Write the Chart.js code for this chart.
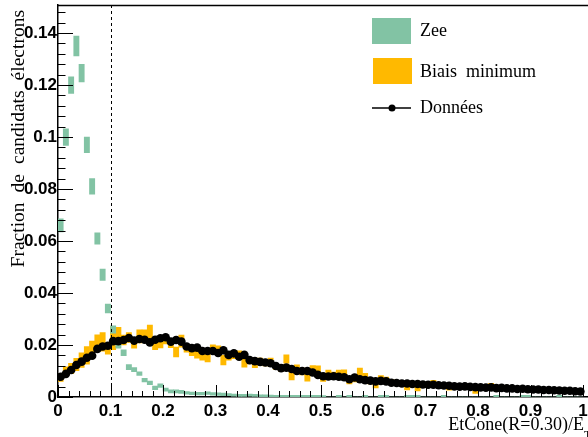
<!DOCTYPE html>
<html>
<head>
<meta charset="utf-8">
<script src="https://cdn.jsdelivr.net/npm/chart.js@4.4.1/dist/chart.umd.min.js"></script>
<style>
html, body { margin: 0; padding: 0; overflow: hidden; background: #fff; }
canvas { display: block; }
</style>
</head>
<body>
<canvas id="myChart" width="640" height="437"></canvas>
<script>
// bins of 0.01 from 0 to 1
const binCenters = Array.from({length: 100}, (_, i) => +(0.005 + 0.01 * i).toFixed(3));

const zee = [
  0.066, 0.100, 0.120, 0.135, 0.1246, 0.097, 0.081, 0.061, 0.047, 0.034,
  0.026, 0.020, 0.017, 0.0115, 0.0105, 0.009, 0.0065, 0.0054, 0.0035, 0.0044,
  0.0028, 0.0022, 0.0022, 0.0020, 0.0016, 0.0014, 0.0013, 0.0013, 0.0015, 0.0012,
  0.0011, 0.0010, 0.0009, 0.0007, 0.0006, 0.0006, 0.0007, 0.0006, 0.0004, 0.0004,
  0.0004, 0.0003, 0.0003, 0.0003, 0.0003, 0.0003, 0.0003, 0.0003, 0.0003, 0.0003,
  0.0002, 0, 0, 0.0003, 0, 0.0003, 0, 0, 0.0003, 0,
  0, 0.0003, 0.0003, 0, 0, 0, 0.0003, 0.0003, 0.0003, 0,
  0, 0, 0, 0.0003, 0, 0, 0, 0, 0, 0,
  0, 0, 0, 0.0003, 0, 0, 0, 0, 0.0003, 0.0003,
  0, 0, 0, 0, 0, 0.0003, 0, 0, 0, 0
];
const zeeErr = [
  0.0025, 0.0032, 0.0032, 0.0038, 0.0034, 0.0030, 0.0030, 0.0022, 0.0022, 0.0017,
  0.0014, 0.0012, 0.0011, 0.0010, 0.0008, 0.0007, 0.0007, 0.0007, 0.0007, 0.0007,
  0.0006, 0.0006, 0.0006, 0.0006, 0.0005, 0.0005, 0.0005, 0.0005, 0.0005, 0.0005,
  0.0005, 0.0005, 0.0004, 0.0004, 0.0004, 0.0004, 0.0004, 0.0004, 0.0004, 0.0004,
  0.0003, 0.0003, 0.0003, 0.0003, 0.0003, 0.0003, 0.0003, 0.0003, 0.0003, 0.0003,
  0.0003, 0, 0, 0.0003, 0, 0.0003, 0, 0, 0.0003, 0,
  0, 0.0003, 0.0003, 0, 0, 0, 0.0003, 0.0003, 0.0003, 0,
  0, 0, 0, 0.0003, 0, 0, 0, 0, 0, 0,
  0, 0, 0, 0.0003, 0, 0, 0, 0, 0.0003, 0.0003,
  0, 0, 0, 0, 0, 0.0003, 0, 0, 0, 0
];

const biais = [
  0.0075, 0.0098, 0.0110, 0.0125, 0.0142, 0.0160, 0.0185, 0.0207, 0.0212, 0.0183,
  0.0226, 0.0239, 0.0219, 0.0229, 0.0204, 0.0233, 0.0235, 0.0244, 0.0201, 0.0205,
  0.0220, 0.0206, 0.0173, 0.0215, 0.0185, 0.0172, 0.0165, 0.0158, 0.0152, 0.0185,
  0.0178, 0.0142, 0.0158, 0.0160, 0.0162, 0.0131, 0.0140, 0.0125, 0.0140, 0.0130,
  0.0140, 0.0118, 0.0112, 0.0146, 0.0085, 0.0108, 0.0098, 0.0077, 0.0108, 0.0104,
  0.0070, 0.0090, 0.0083, 0.0090, 0.0088, 0.0060, 0.0068, 0.0097, 0.0080, 0.0060,
  0.0045, 0.0072, 0.0068, 0.0058, 0.0055, 0.0050, 0.0036, 0.0048, 0.0032, 0.0045,
  0.0046, 0.0055, 0.0044, 0.0040, 0.0034, 0.0042, 0.0038, 0.0036, 0.0040, 0.0022,
  0.0035, 0.0036, 0.0045, 0.0032, 0.0033, 0.0030, 0.0034, 0.0029, 0.0030, 0.0028,
  0.0030, 0.0026, 0.0028, 0.0025, 0.0026, 0.0024, 0.0023, 0.0025, 0.0021, 0.0020
];
const biaisErr = [
  0.0015, 0.0018, 0.0020, 0.0024, 0.0028, 0.0034, 0.0030, 0.0032, 0.0036, 0.0018,
  0.0044, 0.0029, 0.0019, 0.0019, 0.0016, 0.0025, 0.0023, 0.0033, 0.0019, 0.0016,
  0.0016, 0.0016, 0.0019, 0.0023, 0.0013, 0.0013, 0.0016, 0.0016, 0.0017, 0.0016,
  0.0019, 0.0019, 0.0016, 0.0013, 0.0016, 0.0016, 0.0013, 0.0012, 0.0010, 0.0010,
  0.0010, 0.0012, 0.0013, 0.0016, 0.0019, 0.0016, 0.0013, 0.0016, 0.0013, 0.0016,
  0.0010, 0.0014, 0.0013, 0.0014, 0.0017, 0.0010, 0.0010, 0.0014, 0.0011, 0.0010,
  0.0010, 0.0010, 0.0009, 0.0009, 0.0009, 0.0009, 0.0009, 0.0009, 0.0009, 0.0009,
  0.0009, 0.0009, 0.0008, 0.0008, 0.0008, 0.0008, 0.0008, 0.0008, 0.0008, 0.0008,
  0.0008, 0.0008, 0.0008, 0.0008, 0.0008, 0.0008, 0.0008, 0.0008, 0.0008, 0.0008,
  0.0008, 0.0008, 0.0008, 0.0008, 0.0008, 0.0008, 0.0008, 0.0008, 0.0008, 0.0008
];

const donnees = [
  0.0078, 0.0089, 0.0104, 0.0123, 0.0136, 0.0151, 0.0159, 0.0185, 0.0194, 0.0197,
  0.0215, 0.0215, 0.0219, 0.0227, 0.0217, 0.0223, 0.0220, 0.0210, 0.0220, 0.0226,
  0.0230, 0.0213, 0.0219, 0.0213, 0.0194, 0.0188, 0.0190, 0.0177, 0.0177, 0.0177,
  0.0169, 0.0180, 0.0162, 0.0168, 0.0155, 0.0162, 0.0142, 0.0138, 0.0135, 0.0133,
  0.0130, 0.0119, 0.0111, 0.0113, 0.0108, 0.0100, 0.0100, 0.0100, 0.0094, 0.0085,
  0.0080, 0.0079, 0.0080, 0.0078, 0.0076, 0.0068, 0.0075, 0.0068, 0.0065, 0.0063,
  0.0060, 0.0062, 0.0060, 0.0055, 0.0054, 0.0052, 0.0052, 0.0050, 0.0050, 0.0048,
  0.0047, 0.0047, 0.0045, 0.0044, 0.0043, 0.0041, 0.0040, 0.0041, 0.0039, 0.0038,
  0.0037, 0.0036, 0.0037, 0.0034, 0.0035, 0.0033, 0.0033, 0.0031, 0.0032, 0.0030,
  0.0029, 0.0029, 0.0027, 0.0027, 0.0026, 0.0025, 0.0024, 0.0024, 0.0022, 0.0021
];

const xTicks = [0, 0.1, 0.2, 0.3, 0.4, 0.5, 0.6, 0.7, 0.8, 0.9, 1];
const xTickLabels = ['0', '0.1', '0.2', '0.3', '0.4', '0.5', '0.6', '0.7', '0.8', '0.9', '1'];
const yTicks = [0, 0.02, 0.04, 0.06, 0.08, 0.1, 0.12, 0.14];
const yTickLabels = ['0', '0.02', '0.04', '0.06', '0.08', '0.1', '0.12', '0.14'];

const xTitle = 'EtCone(R=0.30)/E';
const xTitleSub = 'T';
const yTitle = 'Fraction de candidats électrons';
const cutValue = 0.1;

const GREEN = '#82c3a4';
const ORANGE = '#ffb900';
const SERIF = '"Liberation Serif", "DejaVu Serif", serif';

// ROOT-like frame: inner ticks, top line, dashed cut, legend and titles
const rootStyle = {
  id: 'rootStyle',
  afterDraw(chart) {
    const { ctx, chartArea: a, scales: { x, y } } = chart;
    ctx.save();
    ctx.strokeStyle = '#000';
    ctx.lineWidth = 1.5;
    ctx.beginPath();
    ctx.moveTo(a.left, a.top + 0.5);
    ctx.lineTo(a.right, a.top + 0.5);
    ctx.stroke();

    ctx.lineWidth = 1;
    ctx.beginPath();
    for (let k = 0; k * 0.004 <= y.max + 1e-9; k++) {
      const py = Math.round(y.getPixelForValue(k * 0.004)) + 0.5;
      const len = k % 5 === 0 ? 15 : 7.5;
      ctx.moveTo(a.left, py);
      ctx.lineTo(a.left + len, py);
    }
    for (let k = 0; k * 0.02 <= x.max + 1e-9; k++) {
      const px = Math.round(x.getPixelForValue(k * 0.02)) + 0.5;
      const len = k % 5 === 0 ? 12 : 6;
      ctx.moveTo(px, a.bottom);
      ctx.lineTo(px, a.bottom - len);
    }
    ctx.stroke();

    // dashed cut line
    const cx = Math.round(x.getPixelForValue(cutValue)) + 0.5;
    ctx.setLineDash([3, 3]);
    ctx.beginPath();
    ctx.moveTo(cx, a.top);
    ctx.lineTo(cx, a.bottom);
    ctx.stroke();
    ctx.setLineDash([]);

    // legend
    const ds = chart.data.datasets;
    const zeeDs = ds.find(d => d.label === 'Zee');
    const biaisDs = ds.find(d => d.label === 'Biais minimum');
    const dataDs = ds.find(d => d.label === 'Données');
    ctx.font = '18px ' + SERIF;
    ctx.fillStyle = '#000';
    ctx.textBaseline = 'alphabetic';
    ctx.textAlign = 'left';

    ctx.fillStyle = zeeDs.backgroundColor;
    ctx.fillRect(372, 18, 39, 26);
    ctx.fillStyle = '#000';
    ctx.fillText(zeeDs.label, 420, 36);

    ctx.fillStyle = biaisDs.backgroundColor;
    ctx.fillRect(373, 58, 39, 26);
    ctx.fillStyle = '#000';
    ctx.fillText('Biais  minimum', 420, 77);

    ctx.lineWidth = 1.5;
    ctx.beginPath();
    ctx.moveTo(372, 108);
    ctx.lineTo(411, 108);
    ctx.stroke();
    ctx.beginPath();
    ctx.arc(392, 108, 3.5, 0, Math.PI * 2);
    ctx.fill();
    ctx.fillText(dataDs.label, 420, 113);

    // axis titles
    ctx.textAlign = 'right';
    ctx.fillText(xTitle, 584, 430);
    ctx.font = '12px ' + SERIF;
    ctx.textAlign = 'left';
    ctx.fillText(xTitleSub, 584, 439);

    // y title, words spread like the ROOT latex rendering
    ctx.font = '19.5px ' + SERIF;
    ctx.translate(24, 10);
    ctx.rotate(-Math.PI / 2);
    ctx.textAlign = 'left';
    const words = yTitle.split(' ');
    const gap = 10;
    const total = words.reduce((s, w) => s + ctx.measureText(w).width, 0) + gap * (words.length - 1);
    let pos = -total;
    words.forEach(w => {
      ctx.fillText(w, pos, 0);
      pos += ctx.measureText(w).width + gap;
    });
    ctx.restore();
  }
};

const ctx = document.getElementById('myChart').getContext('2d');
const myChart = new Chart(ctx, {
  type: 'bar',
  data: {
    datasets: [
      {
        type: 'line',
        label: 'Données',
        data: binCenters.map((c, i) => ({ x: c, y: donnees[i] })),
        borderColor: '#000',
        borderWidth: 1.5,
        pointRadius: 4.3,
        pointBackgroundColor: '#000',
        pointBorderWidth: 0,
        tension: 0,
        order: 0
      },
      {
        label: 'Zee',
        data: binCenters.map((c, i) => ({ x: c, y: [zee[i] - zeeErr[i], zee[i] + zeeErr[i]] })),
        backgroundColor: GREEN,
        borderWidth: 0,
        grouped: false,
        barPercentage: 1,
        categoryPercentage: 1,
        order: 1
      },
      {
        label: 'Biais minimum',
        data: binCenters.map((c, i) => ({ x: c, y: [biais[i] - biaisErr[i], biais[i] + biaisErr[i]] })),
        backgroundColor: ORANGE,
        borderWidth: 0,
        grouped: false,
        barPercentage: 1,
        categoryPercentage: 1,
        order: 2
      }
    ]
  },
  options: {
    responsive: false,
    animation: false,
    layout: { padding: { left: 0, top: 5, right: 4.5, bottom: 0 } },
    plugins: { legend: { display: false }, tooltip: { enabled: false } },
    scales: {
      x: {
        type: 'linear',
        min: 0,
        max: 1.1,
        offset: false,
        grid: { display: false, drawTicks: false },
        border: { display: true, color: '#000', width: 1.5 },
        afterBuildTicks: s => { s.ticks = xTicks.map(v => ({ value: v })); },
        afterFit: s => { s.height = 40; s.paddingLeft = 0; s.paddingRight = 0; },
        ticks: {
          autoSkip: false,
          maxRotation: 0,
          padding: 4,
          color: '#000',
          font: { family: '"Liberation Sans", Arial, sans-serif', size: 17, weight: 'bold' },
          callback: (v, i) => xTickLabels[i]
        }
      },
      y: {
        min: 0,
        max: 0.1508,
        grid: { display: false, drawTicks: false },
        border: { display: true, color: '#000', width: 1.5 },
        afterBuildTicks: s => { s.ticks = yTicks.map(v => ({ value: v })); },
        afterFit: s => { s.width = 58; s.paddingTop = 0; s.paddingBottom = 0; },
        ticks: {
          autoSkip: false,
          padding: 1,
          color: '#000',
          font: { family: '"Liberation Sans", Arial, sans-serif', size: 17, weight: 'bold' },
          callback: (v, i) => yTickLabels[i]
        }
      }
    }
  },
  plugins: [rootStyle]
});
</script>
</body>
</html>
